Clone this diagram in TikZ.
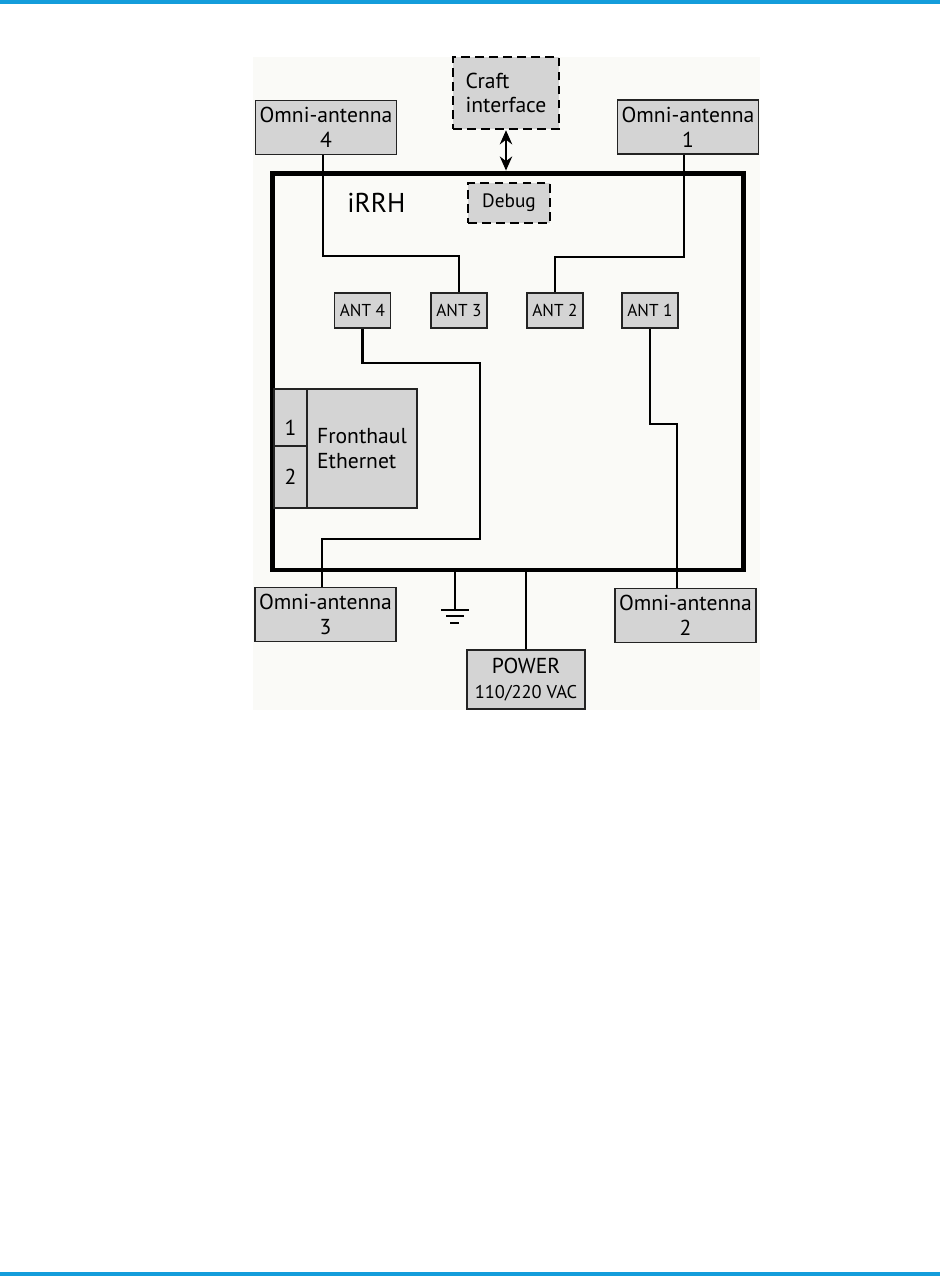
\documentclass[tikz,border=0pt]{standalone}
\usepackage{fontspec}
\setmainfont{PT Sans}
\usetikzlibrary{arrows.meta,positioning,calc}
\definecolor{barblue}{RGB}{20,157,219}
\definecolor{panel}{RGB}{250,250,247}
\definecolor{boxgray}{RGB}{212,212,212}
\definecolor{edge}{RGB}{35,35,35}

\tikzset{
  box/.style={draw=edge,fill=boxgray,line width=0.9pt,inner sep=0pt,align=center,
    font=\fontsize{12.3}{14}\selectfont},
  omnibox/.style={box,minimum width=2.82cm,minimum height=1.08cm},
  antbox/.style={box,minimum width=1.12cm,minimum height=0.7cm,font=\fontsize{9.8}{11}\selectfont},
  dashbox/.style={box,draw=black,line width=1.4pt,dash pattern=on 5pt off 3pt},
  wire/.style={line width=1.3pt},
}

\begin{document}
\begin{tikzpicture}[x=0.02cm,y=-0.02cm]
        \useasboundingbox (0,0) rectangle (940,1276);
        \fill[barblue] (0,0) rectangle (940,4);
        \fill[barblue] (0,1272) rectangle (940,1276);
        \fill[panel] (253,57) rectangle (760,710);
        % the radio head itself
        \node[draw,line width=2.8pt,minimum width=9.44cm,minimum height=7.94cm] (irrh) at (508,371.5) {};
        \node[inner sep=0pt,anchor=base west,font=\fontsize{15.5}{17}\selectfont] (irrhname) at (347,212) {iRRH};
        \node[dashbox,minimum width=1.64cm,minimum height=0.8cm,font=\fontsize{11}{13}\selectfont] (debug) at (509,203) {Debug};
        \node[dashbox,minimum width=2.12cm,minimum height=1.44cm,align=left] (craft) at (506,93) {Craft\\interface};
        % antennas outside
        \node[omnibox] (omni4) at (326,127.5) {Omni-antenna\\4};
        \node[omnibox] (omni1) at (688,127) {Omni-antenna\\1};
        \node[omnibox] (omni3) at (325.5,614.5) {Omni-antenna\\3};
        \node[omnibox] (omni2) at (685.5,615.5) {Omni-antenna\\2};
        % ports inside
        \node[antbox] (ant4) at (362.5,310.5) {ANT 4};
        \node[antbox] (ant3) at (459,310.5) {ANT 3};
        \node[antbox] (ant2) at (555,310.5) {ANT 2};
        \node[antbox] (ant1) at (650,310.5) {ANT 1};
        \node[box,minimum width=2.2cm,minimum height=2.38cm,align=left] (front) at (362,448.5) {Fronthaul\\Ethernet};
        \node[box,minimum width=0.66cm,minimum height=1.14cm,label={[font=\fontsize{12.3}{14}\selectfont,yshift=-6pt]center:1}] (port1) at (290.5,417.5) {};
        \node[box,minimum width=0.66cm,minimum height=1.24cm] (port2) at (290.5,477) {2};
        \node[box,minimum width=2.36cm,minimum height=1.18cm] (power) at (526,679.5) {POWER\\{\fontsize{10.5}{12}\selectfont 110/220 VAC}};
        % cable bends
        \coordinate (k4) at (323,256);
        \coordinate (k1) at (684,257);
        \coordinate (k3) at (480,363);
        \coordinate (k3b) at (322,539);
        \coordinate (k2) at (677,424);
        \coordinate (gnd) at (455,610);
        \draw[wire] (k4 |- omni4.south) -- (k4) -| (ant3.north);
        \draw[wire] (k1 |- omni1.south) -- (k1) -| (ant2.north);
        \draw[wire] (ant4.south) |- (k3) |- (k3b) -- (k3b |- omni3.north);
        \draw[wire] (ant1.south) |- (k2) -- (k2 |- omni2.north);
        \draw[line width=1.5pt,{Stealth[length=8pt,width=7pt]}-{Stealth[length=8pt,width=7pt]}] (craft.south) -- (craft.south |- irrh.north);
        \draw[line width=1.6pt] (power.north |- irrh.south) -- (power.north);
        % ground
        \draw[line width=0.8pt] (gnd |- irrh.south) -- (gnd);
        \draw[line width=1.4pt] ($(gnd)+(-14,0)$) -- ++(28,0)
          ($(gnd)+(-9,6)$) -- ++(18,0)
          ($(gnd)+(-5,13)$) -- ++(9,0);
      \end{tikzpicture}
\end{document}
